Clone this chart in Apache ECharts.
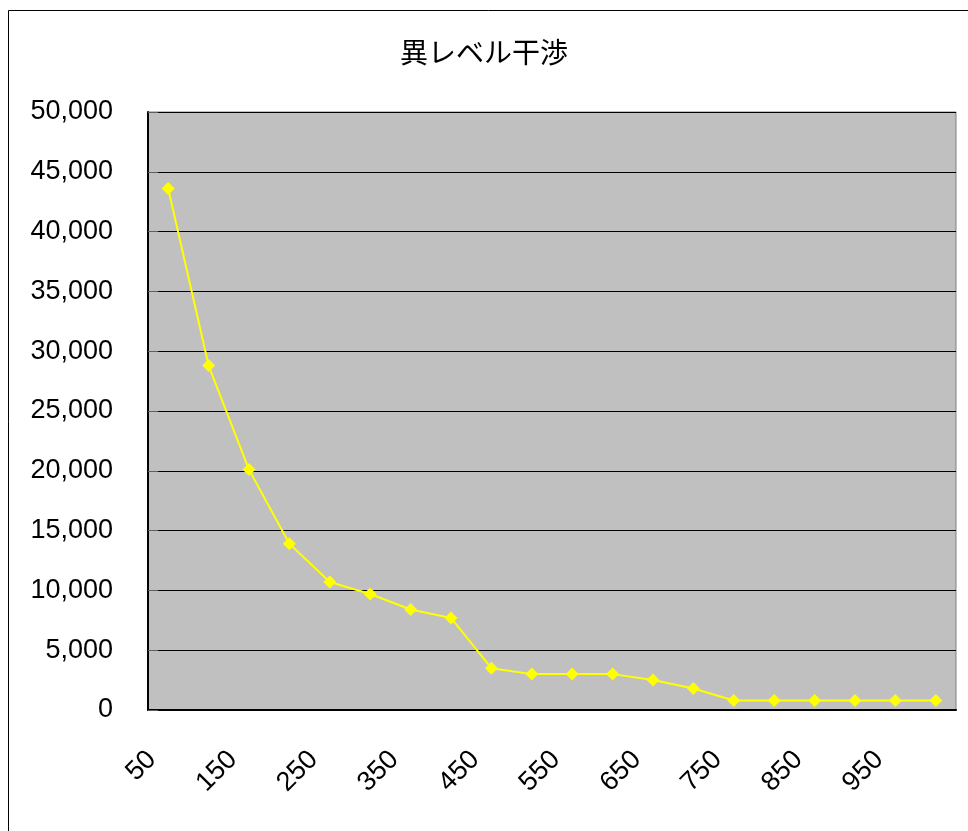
<!DOCTYPE html>
<html><head><meta charset="utf-8">
<script src="https://cdn.jsdelivr.net/npm/echarts@6/dist/echarts.min.js"></script>
<style>html,body{margin:0;padding:0;background:#fff}#c{width:968px;height:831px}</style>
</head><body><div id="c"></div>
<script>
const title = '異レベル干渉';
const categories = ['50','100','150','200','250','300','350','400','450','500','550','600','650','700','750','800','850','900','950','1000'];
const values = [43600, 28800, 20100, 13900, 10700, 9700, 8400, 7700, 3500, 3000, 3000, 3000, 2500, 1800, 800, 800, 800, 800, 800, 800];
const yMin = 0, yMax = 50000, yStep = 5000;

const chart = echarts.init(document.getElementById('c'), null, {renderer:'canvas'});
const font = 'Liberation Sans, Arial, sans-serif';
chart.setOption({
  animation: false,
  backgroundColor: '#fff',
  graphic: [{type:'rect', shape:{x:8.5, y:10.5, width:1000, height:900}, style:{fill:'none', stroke:'#000', lineWidth:1}, z:-1}],
  title: {text: title, left: 'center', top: 33, textStyle:{fontFamily:'Noto Sans CJK JP', fontWeight:'normal', fontSize:28, color:'#000'}},
  grid: {left:148, top:112, right:12, bottom:121, show:true, backgroundColor:'#C0C0C0', borderColor:'#808080', borderWidth:1},
  xAxis: {
    type:'category', data: categories, boundaryGap:true,
    axisLine:{lineStyle:{color:'#000', width:2}},
    axisTick:{inside:true, length:11, interval:0, lineStyle:{color:'#000'}},
    axisLabel:{interval:1, rotate:45, margin:29, padding:[0,23,0,0], fontSize:27, fontFamily:font, color:'#000'},
    splitLine:{show:false}
  },
  yAxis: {
    type:'value', min:yMin, max:yMax, interval:yStep,
    axisLine:{show:true, lineStyle:{color:'#000', width:2}},
    axisTick:{show:true, inside:true, length:10, lineStyle:{color:'#606060'}},
    axisLabel:{fontSize:27, fontFamily:font, color:'#000', margin:35, formatter:v=>v.toLocaleString('en-US')},
    splitLine:{show:true, lineStyle:{color:'#000', width:1}}
  },
  series: [{
    type:'line', data: values, symbol:'diamond', symbolSize:13,
    lineStyle:{color:'#FFFF00', width:2}, itemStyle:{color:'#FFFF00'}
  }]
});
</script></body></html>
